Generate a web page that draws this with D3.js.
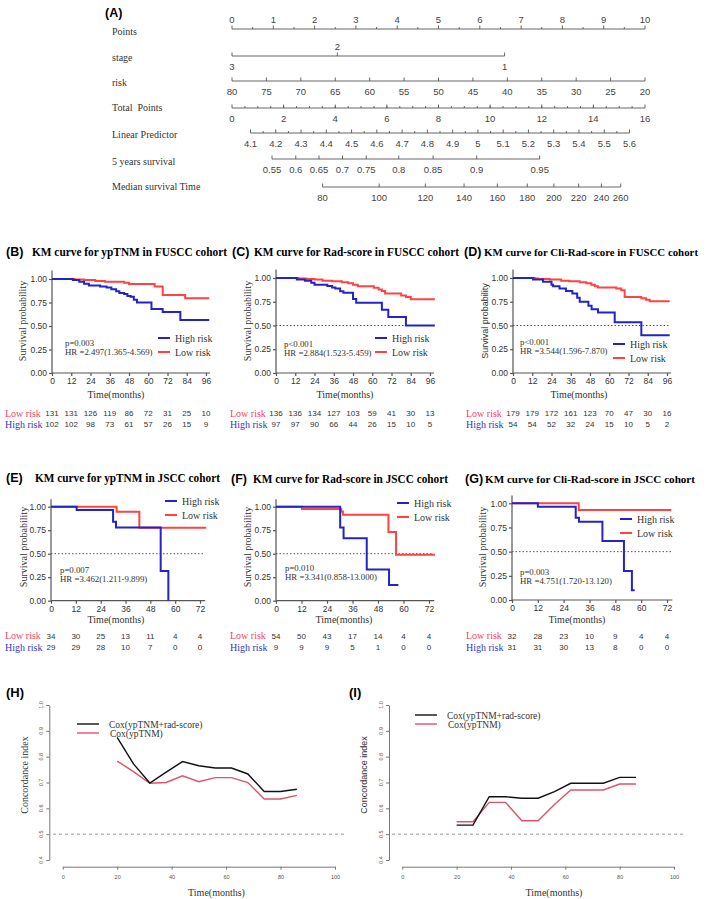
<!DOCTYPE html>
<html>
<head>
<meta charset="utf-8">
<script src="https://cdn.jsdelivr.net/npm/d3@7"></script>
<style>
  body { margin: 0; background: #fff; }
  svg { display: block; }
</style>
</head>
<body>
<script>
// ---------- data ----------
// (A) nomogram
var pointsTicks = [0, 1, 2, 3, 4, 5, 6, 7, 8, 9, 10];
var stageLevels = ["3", "2", "1"];
var stagePoints = [0, 2.55, 6.6];
var riskTicks = [80, 75, 70, 65, 60, 55, 50, 45, 40, 35, 30, 25, 20];
var totalTicks = [0, 2, 4, 6, 8, 10, 12, 14, 16];
var lpTicks = [4.1, 4.2, 4.3, 4.4, 4.5, 4.6, 4.7, 4.8, 4.9, 5, 5.1, 5.2, 5.3, 5.4, 5.5, 5.6];
var surv5Ticks = [0.55, 0.6, 0.65, 0.7, 0.75, 0.8, 0.85, 0.9, 0.95];
var surv5Total = [1.55, 2.47, 3.37, 4.28, 5.2, 6.46, 7.79, 9.48, 11.92];
var medianTicks = [80, 100, 120, 140, 160, 180, 200, 220, 240, 260];
var medianTotal = [3.51, 5.7, 7.49, 8.99, 10.28, 11.44, 12.47, 13.43, 14.31, 15.06];

// KM curves: [time, survival] after each step
var kmB_high = [[0,1],[13,0.99],[17,0.97],[20,0.95],[23,0.93],[30,0.92],[34,0.91],[37,0.89],[40,0.87],[42,0.85],[45,0.84],[47,0.82],[49,0.81],[51,0.78],[53,0.75],[62,0.68],[69,0.65],[80,0.565]];
var kmB_low  = [[0,1],[14,0.995],[20,0.99],[27,0.98],[33,0.97],[45,0.96],[48,0.947],[64,0.92],[69,0.83],[83,0.795]];
var kmC_high = [[0,1],[13,0.985],[18,0.97],[22,0.95],[24,0.93],[32,0.915],[35,0.9],[37,0.89],[40,0.86],[42,0.845],[48,0.78],[50,0.74],[66,0.665],[70,0.59],[81,0.5]];
var kmC_low  = [[0,1],[14,0.995],[19,0.99],[24,0.983],[29,0.972],[35,0.966],[41,0.955],[45,0.945],[48,0.93],[51,0.914],[61,0.897],[64,0.88],[66,0.862],[68,0.838],[78,0.817],[81,0.8],[84,0.776]];
var kmD_high = [[0,1],[12.5,0.983],[18.7,0.96],[24,0.93],[25,0.914],[29,0.89],[33,0.862],[37,0.838],[40,0.793],[41.6,0.75],[47,0.707],[49,0.672],[53,0.638],[63.4,0.534],[80,0.397]];
var kmD_low  = [[0,1],[13.5,0.995],[15.6,0.99],[23,0.983],[30,0.972],[35,0.966],[41.6,0.955],[45.7,0.945],[48.8,0.93],[51,0.914],[53,0.9],[64.4,0.89],[67.5,0.87],[69.6,0.8],[80,0.786],[83,0.77],[85.2,0.755]];
var kmE_high = [[0,1],[12.4,0.965],[30,0.84],[31.4,0.78],[53,0.315],[56.7,0]];
var kmE_low  = [[0,1],[31.7,0.945],[42.7,0.775]];
var kmF_high = [[0,1],[30.2,0.78],[31.8,0.665],[42.7,0.333],[53.2,0.167]];
var kmF_low  = [[0,1],[12.2,0.975],[30.7,0.95],[31.5,0.915],[52.9,0.73],[56.5,0.49]];
var kmG_high = [[0,1],[12,0.965],[29.6,0.85],[31.1,0.81],[42,0.61],[52,0.3],[55.7,0.1]];
var kmG_low  = [[0,1],[31,0.93]];

// numbers at risk
var riskB_low = [131, 131, 126, 119, 86, 72, 31, 25, 10];
var riskB_high = [102, 102, 98, 73, 61, 57, 26, 15, 9];
var riskC_low = [136, 136, 134, 127, 103, 59, 41, 30, 13];
var riskC_high = [97, 97, 90, 66, 44, 26, 15, 10, 5];
var riskD_low = [179, 179, 172, 161, 123, 70, 47, 30, 16];
var riskD_high = [54, 54, 52, 32, 24, 15, 10, 5, 2];
var riskE_low = [34, 30, 25, 13, 11, 4, 4];
var riskE_high = [29, 29, 28, 10, 7, 0, 0];
var riskF_low = [54, 50, 43, 17, 14, 4, 4];
var riskF_high = [9, 9, 9, 5, 1, 0, 0];
var riskG_low = [32, 28, 23, 10, 9, 4, 4];
var riskG_high = [31, 31, 30, 13, 8, 0, 0];

var tick96 = [0, 12, 24, 36, 48, 60, 72, 84, 96];
var tick72 = [0, 12, 24, 36, 48, 60, 72];
var survTicks = [0, 0.25, 0.5, 0.75, 1];

// (H) (I) time-dependent C-index
var cTimes = [20, 26, 32, 38, 44, 50, 56, 62, 68, 74, 80, 86];
var cH_combined = [0.875, 0.772, 0.698, 0.74, 0.781, 0.765, 0.756, 0.756, 0.733, 0.665, 0.665, 0.674];
var cH_yptnm = [0.783, 0.742, 0.697, 0.7, 0.726, 0.703, 0.719, 0.719, 0.7, 0.636, 0.636, 0.65];
var cI_combined = [0.535, 0.535, 0.645, 0.645, 0.639, 0.639, 0.665, 0.697, 0.697, 0.697, 0.72, 0.72];
var cI_yptnm = [0.548, 0.548, 0.623, 0.623, 0.552, 0.552, 0.615, 0.671, 0.671, 0.671, 0.694, 0.694];
var cTicksX = [0, 20, 40, 60, 80, 100];
var cTicksY = [0.4, 0.5, 0.6, 0.7, 0.8, 0.9, 1.0];

// ---------- setup ----------
var W = 709, H = 899;
var serif = '"Liberation Serif","Times New Roman",serif';
var sans = '"Liberation Sans",Arial,sans-serif';
var blue = "#2323c8", red = "#ff4343";

var svg = d3.select("body").append("svg")
    .attr("width", W).attr("height", H);
svg.append("rect").attr("width", W).attr("height", H).attr("fill", "#fff");

// ---------- (A) nomogram ----------
var NX0 = 232, NX1 = 645;
var ptsX = d3.scaleLinear().domain([0, 10]).range([NX0, NX1]);
var totX = d3.scaleLinear().domain([0, 16]).range([NX0, NX1]);
var riskX = d3.scaleLinear().domain([80, 20]).range([NX0, NX1]);
var lpX = d3.scaleLinear().domain([4.1, 5.6]).range([totX(0.717), totX(15.4)]);

var nomo = svg.append("g");
nomo.append("text").attr("x", 105).attr("y", 17)
    .attr("font-family", sans).attr("font-weight", "bold").attr("font-size", 12.5)
    .text("(A)");

var rowLabels = [
  ["Points", 31], ["stage", 57], ["risk", 82], ["Total  Points", 107],
  ["Linear Predictor", 134], ["5 years survival", 161], ["Median survival Time", 186]
];
nomo.selectAll(null).data(rowLabels).join("text")
    .attr("x", 112).attr("y", function(d) { return d[1] + 3.5; })
    .attr("font-family", serif).attr("font-size", 10).attr("fill", "#333")
    .style("white-space", "pre")
    .text(function(d) { return d[0]; });

// majors: {x, label, pos}; minors: x positions
function nomoAxis(yl, majors, minors) {
  var g = nomo.append("g").attr("stroke", "#555").attr("stroke-width", 0.9);
  var xs = majors.map(function(d) { return d.x; });
  g.append("line").attr("x1", d3.min(xs)).attr("x2", d3.max(xs)).attr("y1", yl).attr("y2", yl);
  g.selectAll(null).data(majors).join("line")
      .attr("x1", function(d) { return d.x; }).attr("x2", function(d) { return d.x; })
      .attr("y1", yl).attr("y2", yl - 3.5);
  g.selectAll(null).data(minors).join("line")
      .attr("x1", function(d) { return d; }).attr("x2", function(d) { return d; })
      .attr("y1", yl).attr("y2", yl - 2);
  nomo.selectAll(null).data(majors).join("text")
      .attr("x", function(d) { return d.x; })
      .attr("y", function(d) { return d.pos === "above" ? yl - 6 : yl + 14; })
      .attr("text-anchor", "middle")
      .attr("font-family", sans).attr("font-size", 9.5).attr("fill", "#444")
      .text(function(d) { return d.label; });
}

nomoAxis(29,
  pointsTicks.map(function(v) { return { x: ptsX(v), label: v, pos: "above" }; }),
  d3.range(0.5, 10, 1).map(ptsX));
nomoAxis(56,
  stageLevels.map(function(s, i) { return { x: ptsX(stagePoints[i]), label: s, pos: i === 1 ? "above" : "below" }; }),
  []);
nomoAxis(81,
  riskTicks.map(function(v) { return { x: riskX(v), label: v, pos: "below" }; }),
  []);
nomoAxis(108,
  totalTicks.map(function(v) { return { x: totX(v), label: v, pos: "below" }; }),
  d3.range(0.5, 16, 0.5).map(totX));
nomoAxis(133,
  lpTicks.map(function(v) { return { x: lpX(v), label: d3.format("~g")(v), pos: "below" }; }),
  d3.range(4.15, 5.6, 0.1).map(lpX));
nomoAxis(159,
  surv5Ticks.map(function(v, i) { return { x: totX(surv5Total[i]), label: v, pos: "below" }; }),
  []);
nomoAxis(187,
  medianTicks.map(function(v, i) { return { x: totX(medianTotal[i]), label: v, pos: "below" }; }),
  []);

// ---------- KM panels ----------
var kmPanels = [
  { tag: "(B)", tagX: 6, title: "KM curve for ypTNM in FUSCC cohort", titleX: 32, titleW: 195, titleY: 256, titleSize: 11.5,
    x0: 52, x1: 206, tmax: 96, axisEnd: 98.5, ticks: tick96, y0: 373, y1: 279, yTop: 1.09,
    high: kmB_high, highEnd: 98, low: kmB_low, lowEnd: 98, dotted: false,
    p: "p=0.003", hr: "HR =2.497(1.365-4.569)", px: 65, py: 344, lx: 158, ly: 338,
    ylabX: 23, ylabY: 321, ylabFont: serif, timeX: 116, timeY: 398,
    riskLow: riskB_low, riskHigh: riskB_high, riskLabX: 5, riskY: [416.5, 427.5] },
  { tag: "(C)", tagX: 232, title: "KM curve for Rad-score in FUSCC cohort", titleX: 254, titleW: 205, titleY: 256, titleSize: 11.5,
    x0: 276, x1: 430, tmax: 96, axisEnd: 98.5, ticks: tick96, y0: 373, y1: 278, yTop: 1.09,
    high: kmC_high, highEnd: 99, low: kmC_low, lowEnd: 99, dotted: true,
    p: "p<0.001", hr: "HR =2.884(1.523-5.459)", px: 284, py: 345, lx: 375, ly: 338,
    ylabX: 248, ylabY: 321, ylabFont: serif, timeX: 345, timeY: 398,
    riskLow: riskC_low, riskHigh: riskC_high, riskLabX: 230, riskY: [416.5, 427.5] },
  { tag: "(D)", tagX: 464, title: "KM curve for Cli-Rad-score in FUSCC cohort", titleX: 484, titleW: 214, titleY: 256, titleSize: 10.6,
    x0: 513, x1: 667, tmax: 96, axisEnd: 98.5, ticks: tick96, y0: 373, y1: 278, yTop: 1.09,
    high: kmD_high, highEnd: 97.7, low: kmD_low, lowEnd: 97.7, dotted: true,
    p: "p<0.001", hr: "HR =3.544(1.596-7.870)", px: 520, py: 343, lx: 613, ly: 344,
    ylabX: 485, ylabY: 321, ylabFont: sans, timeX: 579, timeY: 398,
    riskLow: riskD_low, riskHigh: riskD_high, riskLabX: 466, riskY: [416.5, 427.5] },
  { tag: "(E)", tagX: 6, title: "KM curve for ypTNM in JSCC cohort", titleX: 35, titleW: 185, titleY: 482, titleSize: 11.5,
    x0: 51, x1: 200, tmax: 72, axisEnd: 74.5, ticks: tick72, y0: 600.7, y1: 506.7, yTop: 1.08,
    high: kmE_high, highEnd: 56.7, low: kmE_low, lowEnd: 75, dotted: true,
    p: "p=0.007", hr: "HR =3.462(1.211-9.899)", px: 60, py: 571, lx: 165, ly: 501,
    ylabX: 24, ylabY: 547, ylabFont: serif, timeX: 116, timeY: 623,
    riskLow: riskE_low, riskHigh: riskE_high, riskLabX: 5, riskY: [639, 650.5] },
  { tag: "(F)", tagX: 231, title: "KM curve for Rad-score in JSCC cohort", titleX: 253, titleW: 195, titleY: 483, titleSize: 11.5,
    x0: 276, x1: 429, tmax: 72, axisEnd: 74.5, ticks: tick72, y0: 600.7, y1: 506.7, yTop: 1.08,
    high: kmF_high, highEnd: 57.6, low: kmF_low, lowEnd: 74.8, dotted: true,
    p: "p=0.010", hr: "HR =3.341(0.858-13.000)", px: 285, py: 569, lx: 397, ly: 503,
    ylabX: 248, ylabY: 547, ylabFont: serif, timeX: 344, timeY: 623,
    riskLow: riskF_low, riskHigh: riskF_high, riskLabX: 230, riskY: [639, 650.5] },
  { tag: "(G)", tagX: 465, title: "KM curve for Cli-Rad-score in JSCC cohort", titleX: 485, titleW: 210, titleY: 483, titleSize: 11,
    x0: 512, x1: 667, tmax: 72, axisEnd: 74.5, ticks: tick72, y0: 600, y1: 503.3, yTop: 1.08,
    high: kmG_high, highEnd: 57, low: kmG_low, lowEnd: 74, dotted: true,
    p: "p=0.003", hr: "HR =4.751(1.720-13.120)", px: 520, py: 573, lx: 620, ly: 519,
    ylabX: 483, ylabY: 547, ylabFont: serif, timeX: 577, timeY: 623,
    riskLow: riskG_low, riskHigh: riskG_high, riskLabX: 466, riskY: [639, 650.5] }
];

function styleAxis(a) {
  a.selectAll("line,path").attr("stroke", "#555").attr("stroke-width", 1.2);
  a.selectAll("text").attr("font-family", sans).attr("font-size", 8.5).attr("fill", "#333");
}

function drawKM(c) {
  var g = svg.append("g");
  var x = d3.scaleLinear().domain([0, c.tmax]).range([c.x0, c.x1]);
  var y = d3.scaleLinear().domain([0, 1]).range([c.y0, c.y1]);

  g.append("text").attr("x", c.tagX).attr("y", c.titleY)
      .attr("font-family", sans).attr("font-weight", "bold").attr("font-size", 12.5).text(c.tag);
  g.append("text").attr("x", c.titleX).attr("y", c.titleY)
      .attr("font-family", serif).attr("font-weight", "bold").attr("font-size", c.titleSize)
      .attr("textLength", c.titleW).attr("lengthAdjust", "spacingAndGlyphs")
      .text(c.title);

  var xa = g.append("g").attr("transform", "translate(0," + c.y0 + ")")
      .call(d3.axisBottom(x).tickValues(c.ticks).tickSize(3).tickPadding(2).tickSizeOuter(0));
  xa.select(".domain").attr("d", "M" + x(0) + ",0H" + x(c.axisEnd));
  styleAxis(xa);

  var ya = g.append("g").attr("transform", "translate(" + c.x0 + ",0)")
      .call(d3.axisLeft(y).tickValues(survTicks).tickFormat(d3.format(".2f")).tickSize(3).tickPadding(2).tickSizeOuter(0));
  ya.select(".domain").attr("d", "M0," + y(0) + "V" + y(c.yTop));
  styleAxis(ya);

  if (c.dotted) {
    g.append("line").attr("x1", x(0)).attr("x2", x(c.axisEnd - 0.5))
        .attr("y1", y(0.5)).attr("y2", y(0.5))
        .attr("stroke", "#555").attr("stroke-width", 1).attr("stroke-dasharray", "1.5,2");
  }

  var line = d3.line().x(function(d) { return x(d[0]); }).y(function(d) { return y(d[1]); })
      .curve(d3.curveStepAfter);
  function withEnd(pts, end) {
    var a = pts.slice();
    if (end > pts[pts.length - 1][0]) a.push([end, pts[pts.length - 1][1]]);
    return a;
  }
  g.append("path").attr("d", line(withEnd(c.low, c.lowEnd)))
      .attr("fill", "none").attr("stroke", red).attr("stroke-width", 2);
  g.append("path").attr("d", line(withEnd(c.high, c.highEnd)))
      .attr("fill", "none").attr("stroke", blue).attr("stroke-width", 2);

  // legend
  var leg = [["High risk", blue, c.ly], ["Low risk", red, c.ly + 14]];
  g.selectAll(null).data(leg).join("line")
      .attr("x1", c.lx).attr("x2", c.lx + 12)
      .attr("y1", function(d) { return d[2]; }).attr("y2", function(d) { return d[2]; })
      .attr("stroke", function(d) { return d[1]; }).attr("stroke-width", 2);
  g.selectAll(null).data(leg).join("text")
      .attr("x", c.lx + 17).attr("y", function(d) { return d[2] + 3.5; })
      .attr("font-family", serif).attr("font-size", 10).attr("fill", "#333")
      .text(function(d) { return d[0]; });

  g.append("text").attr("x", c.px).attr("y", c.py + 1.5)
      .attr("font-family", serif).attr("font-size", 8.8).attr("fill", "#333").text(c.p);
  g.append("text").attr("x", c.px).attr("y", c.py + 11)
      .attr("font-family", serif).attr("font-size", 8.8).attr("fill", "#333").text(c.hr);

  g.append("text")
      .attr("transform", "translate(" + (c.ylabX + 3) + "," + c.ylabY + ") rotate(-90)")
      .attr("text-anchor", "middle")
      .attr("font-family", c.ylabFont).attr("font-size", c.ylabFont === sans ? 9 : 10).attr("fill", "#333")
      .text("Survival probability");
  g.append("text").attr("x", c.timeX).attr("y", c.timeY)
      .attr("text-anchor", "middle")
      .attr("font-family", serif).attr("font-size", 10).attr("fill", "#333")
      .text("Time(months)");

  // numbers at risk
  var rows = [["Low risk", "#f43f64", c.riskLow, c.riskY[0]], ["High risk", "#3535c4", c.riskHigh, c.riskY[1]]];
  rows.forEach(function(r) {
    g.append("text").attr("x", c.riskLabX).attr("y", r[3])
        .attr("font-family", serif).attr("font-size", 10).attr("fill", r[1]).text(r[0]);
    g.selectAll(null).data(r[2]).join("text")
        .attr("x", function(d, i) { return x(c.ticks[i]); }).attr("y", r[3] - 0.5)
        .attr("text-anchor", "middle")
        .attr("font-family", sans).attr("font-size", 8).attr("fill", "#333")
        .text(function(d) { return d; });
  });
}
kmPanels.forEach(drawKM);

// ---------- (H) (I) C-index panels ----------
var cPanels = [
  { tag: "(H)", tagX: 6, x0: 62.7, x1: 335, yAxisX: 49.3, dashX: [53, 347],
    combined: cH_combined, yptnm: cH_yptnm, lx: 77, ly: 724, ylabX: 25, ylabFont: serif, timeX: 216.5 },
  { tag: "(I)", tagX: 349, x0: 402.3, x1: 674, yAxisX: 389, dashX: [392, 686],
    combined: cI_combined, yptnm: cI_yptnm, lx: 415, ly: 715, ylabX: 364, ylabFont: sans, timeX: 554 }
];

function drawCindex(c) {
  var g = svg.append("g");
  var x = d3.scaleLinear().domain([0, 100]).range([c.x0, c.x1]);
  var y = d3.scaleLinear().domain([0.4, 1.0]).range([860, 705]);

  g.append("text").attr("x", c.tagX).attr("y", 697)
      .attr("font-family", sans).attr("font-weight", "bold").attr("font-size", 13).text(c.tag);

  var xa = g.append("g").attr("transform", "translate(0,866.7)")
      .call(d3.axisBottom(x).tickValues(cTicksX).tickSize(3).tickPadding(5).tickSizeOuter(0));
  xa.selectAll("line,path").attr("stroke", "#777").attr("stroke-width", 1);
  xa.selectAll("text").attr("font-family", sans).attr("font-size", 5.5).attr("fill", "#555");

  var ya = g.append("g").attr("transform", "translate(" + c.yAxisX + ",0)")
      .call(d3.axisLeft(y).tickValues(cTicksY).tickSize(3).tickFormat("").tickSizeOuter(0));
  ya.selectAll("line,path").attr("stroke", "#777").attr("stroke-width", 1);
  g.selectAll(null).data(cTicksY).join("text")
      .attr("transform", function(d) { return "translate(" + (c.yAxisX - 6) + "," + y(d) + ") rotate(-90)"; })
      .attr("text-anchor", "middle")
      .attr("font-family", sans).attr("font-size", 5.5).attr("fill", "#555")
      .text(d3.format(".1f"));

  g.append("line").attr("x1", c.dashX[0]).attr("x2", c.dashX[1])
      .attr("y1", y(0.5)).attr("y2", y(0.5))
      .attr("stroke", "#999").attr("stroke-width", 1).attr("stroke-dasharray", "3,3");

  var line = d3.line().x(function(d, i) { return x(cTimes[i]); }).y(function(d) { return y(d); });
  g.append("path").attr("d", line(c.yptnm))
      .attr("fill", "none").attr("stroke", "#df536b").attr("stroke-width", 1.4);
  g.append("path").attr("d", line(c.combined))
      .attr("fill", "none").attr("stroke", "#111").attr("stroke-width", 1.4);

  var leg = [["Cox(ypTNM+rad-score)", "#111", c.ly], ["Cox(ypTNM)", "#df536b", c.ly + 9]];
  g.selectAll(null).data(leg).join("line")
      .attr("x1", c.lx).attr("x2", c.lx + 22)
      .attr("y1", function(d) { return d[2]; }).attr("y2", function(d) { return d[2]; })
      .attr("stroke", function(d) { return d[1]; }).attr("stroke-width", 1.4);
  g.selectAll(null).data(leg).join("text")
      .attr("x", function(d, i) { return c.lx + 32 + i; }).attr("y", function(d) { return d[2] + 3.5; })
      .attr("font-family", serif).attr("font-size", 9.5).attr("fill", "#333")
      .text(function(d) { return d[0]; });

  g.append("text")
      .attr("transform", "translate(" + (c.ylabX + 3) + ",775) rotate(-90)")
      .attr("text-anchor", "middle")
      .attr("font-family", c.ylabFont).attr("font-size", c.ylabFont === sans ? 9 : 10).attr("fill", "#333")
      .text("Concordance index");
  g.append("text").attr("x", c.timeX).attr("y", 895.5)
      .attr("text-anchor", "middle")
      .attr("font-family", serif).attr("font-size", 10).attr("fill", "#333")
      .text("Time(months)");
}
cPanels.forEach(drawCindex);
</script>
</body>
</html>
